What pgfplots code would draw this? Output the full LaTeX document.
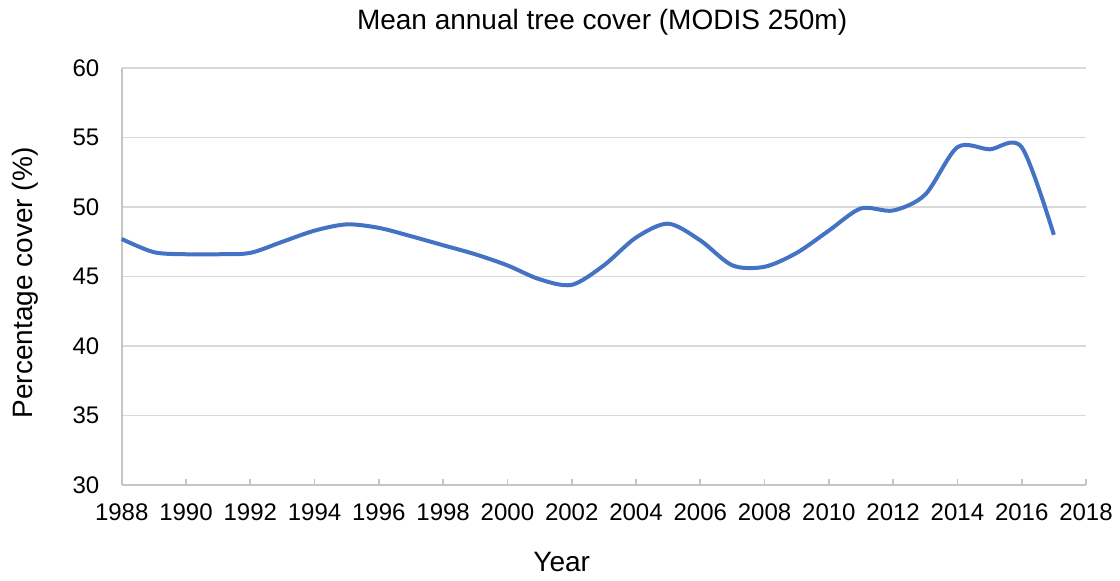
\documentclass[border=0pt]{standalone}
\usepackage{pgfplots}
\pgfplotsset{compat=1.18}
\usepackage{fontspec}
\setmainfont{Liberation Sans}
\definecolor{lineblue}{HTML}{4472C4}
\definecolor{gridgray}{HTML}{D9D9D9}
\definecolor{axisgray}{HTML}{C6C6C6}
\begin{document}
\begin{tikzpicture}
\path[use as bounding box] (-60.85pt,-47.5pt) rectangle (499.15pt,242.5pt);
\begin{axis}[
  name=ax,
  at={(0,0)}, anchor=south west,
  scale only axis,
  width=482.15pt, height=208.5pt,
  xmin=1988, xmax=2018, ymin=30, ymax=60,
  xtick={1988,1990,...,2018},
  ytick={30,35,...,60},
  axis lines*=left,
  axis line style={draw=axisgray, line width=0.8pt},
  ymajorgrids,
  grid style={draw=gridgray, line width=0.75pt},
  tick align=inside,
  major tick length=3pt,
  xtick style={draw=axisgray, line width=0.8pt},
  ytick style={draw=none},
  /pgf/number format/assume math mode=true,
  /pgf/number format/set thousands separator={},
  ticklabel style={font=\fontsize{12}{14}\selectfont, text=black},
  xticklabel style={anchor=center, inner sep=0pt, yshift=-13.5pt},
  yticklabel style={anchor=east, inner sep=0pt, xshift=-11pt},
  clip=false,
]
\addplot[lineblue, line width=2pt, smooth, mark=none] coordinates {
(1988,47.7) (1989,46.75) (1990,46.6) (1991,46.6) (1992,46.7) (1993,47.5)
(1994,48.3) (1995,48.75) (1996,48.5) (1997,47.9) (1998,47.25) (1999,46.6)
(2000,45.8) (2001,44.8) (2002,44.4) (2003,45.8) (2004,47.8) (2005,48.8)
(2006,47.6) (2007,45.8) (2008,45.7) (2009,46.7) (2010,48.3) (2011,49.9)
(2012,49.75) (2013,50.9) (2014,54.3) (2015,54.15) (2016,54.3) (2017,48.0)
};
\end{axis}
\node[font=\fontsize{14}{16}\selectfont, anchor=center] at (240.2pt,231.5pt) {Mean annual tree cover (MODIS 250m)};
\node[font=\fontsize{14}{16}\selectfont, anchor=center] at (220pt,-38.5pt) {Year};
\node[font=\fontsize{14}{16}\selectfont, anchor=center, rotate=90] at (-48.35pt,101pt) {Percentage cover (\%)};
\end{tikzpicture}
\end{document}
